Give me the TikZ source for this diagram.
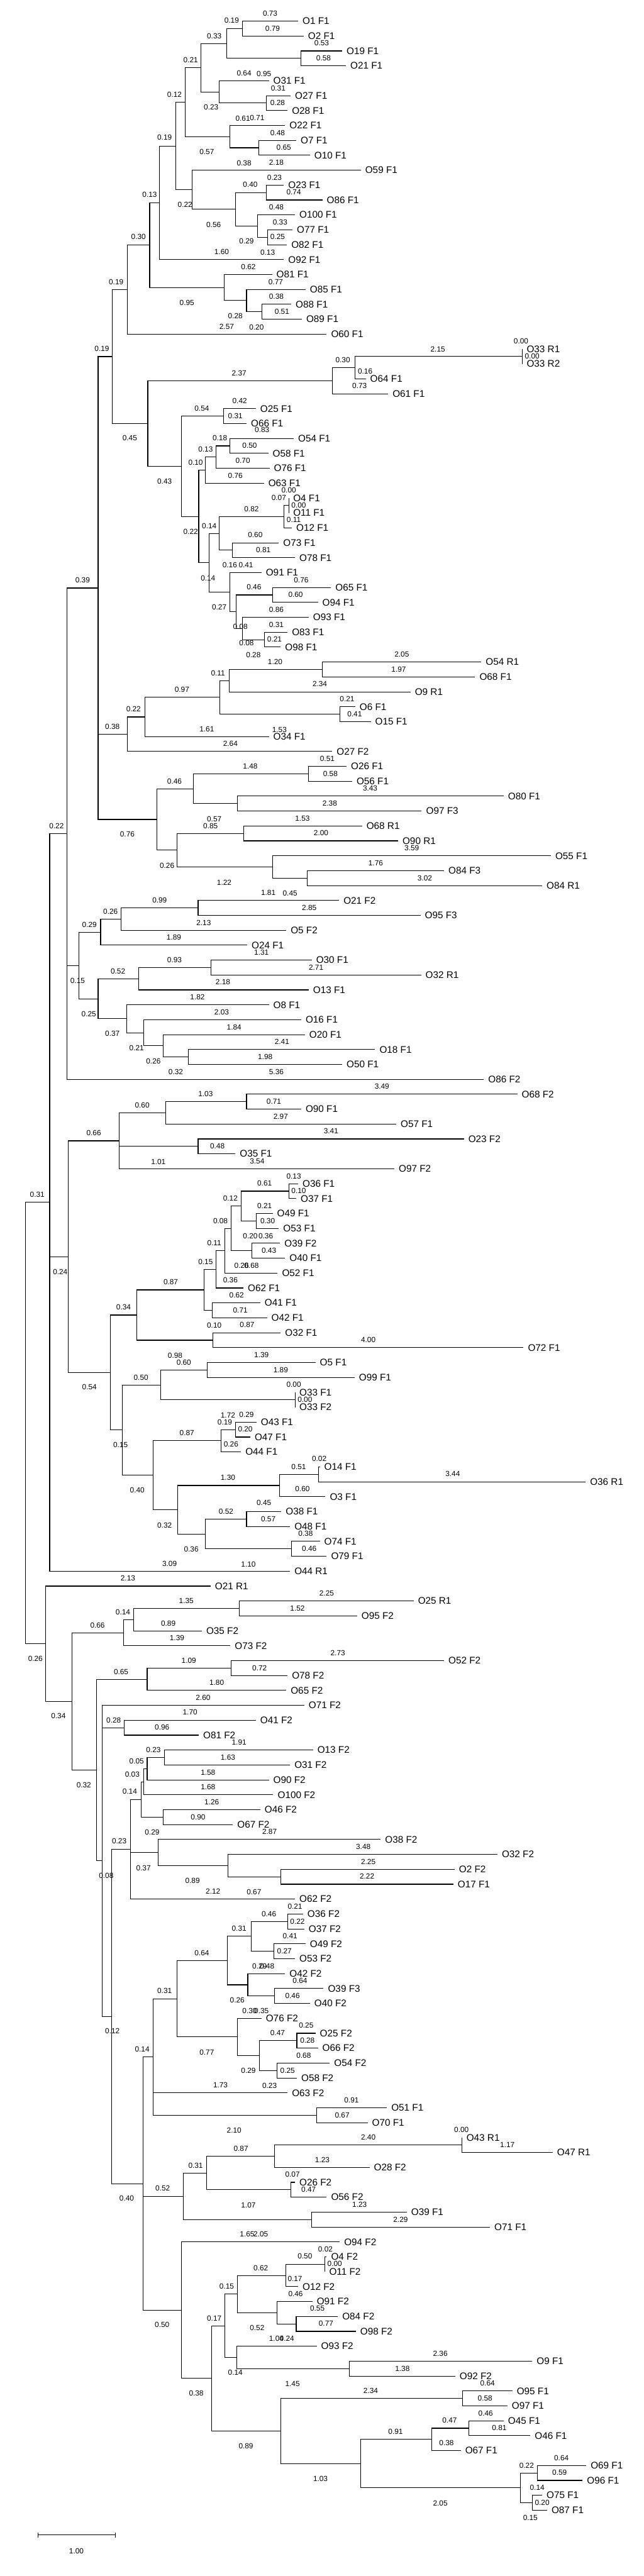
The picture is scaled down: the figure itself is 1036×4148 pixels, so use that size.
\documentclass[tikz,border=0pt]{standalone}
\usepackage{fontspec}
\setmainfont{Liberation Sans}
\newcounter{blc}
\begin{document}
\begin{tikzpicture}[x=1pt,y=-1pt,
  br/.style={line width=1.1pt},
  leaflab/.style={anchor=west,inner sep=0pt,font=\fontsize{15.5}{16}\selectfont},
  brlab/.style={inner sep=0pt,font=\fontsize{12}{13}\selectfont}]
\useasboundingbox (0,0) rectangle (1036,4148);
\newcommand\lf[4]{\coordinate (#1) at (#3,{34+24*#2}); \node[leaflab] (t#1) at ([xshift=7pt]#1) {#4};}
\newcommand\nd[3]{\coordinate (#1) at (#2,#3);}
\newcommand\ch[2]{\foreach \chld in {#2}{\draw[br] (#1) |- (\chld);}}
\newcommand\bl[3]{\stepcounter{blc}\edef\blname{b\number\value{blc}}\node[brlab] (\blname) at (#1,#2) {#3};}
% leaves
\lf{O1F1}{0}{480}{O1 F1}
\lf{O2F1}{1}{489}{O2 F1}
\lf{O19F1}{2}{551}{O19 F1}
\lf{O21F1}{3}{557}{O21 F1}
\lf{O31F1}{4}{433}{O31 F1}
\lf{O27F1}{5}{468}{O27 F1}
\lf{O28F1}{6}{463}{O28 F1}
\lf{O22F1}{7}{459}{O22 F1}
\lf{O7F1}{8}{477}{O7 F1}
\lf{O10F1}{9}{499}{O10 F1}
\lf{O59F1}{10}{581}{O59 F1}
\lf{O23F1}{11}{457}{O23 F1}
\lf{O86F1}{12}{519}{O86 F1}
\lf{O100F1}{13}{475}{O100 F1}
\lf{O77F1}{14}{471}{O77 F1}
\lf{O82F1}{15}{462}{O82 F1}
\lf{O92F1}{16}{457}{O92 F1}
\lf{O81F1}{17}{438}{O81 F1}
\lf{O85F1}{18}{492}{O85 F1}
\lf{O88F1}{19}{469}{O88 F1}
\lf{O89F1}{20}{486}{O89 F1}
\lf{O60F1}{21}{526}{O60 F1}
\lf{O33R1}{22}{841}{O33 R1}
\lf{O33R2}{23}{841}{O33 R2}
\lf{O64F1}{24}{589}{O64 F1}
\lf{O61F1}{25}{625}{O61 F1}
\lf{O25F1}{26}{412}{O25 F1}
\lf{O66F1}{27}{397}{O66 F1}
\lf{O54F1}{28}{473}{O54 F1}
\lf{O58F1}{29}{432}{O58 F1}
\lf{O76F1}{30}{434}{O76 F1}
\lf{O63F1}{31}{425}{O63 F1}
\lf{O4F1}{32}{465}{O4 F1}
\lf{O11F1}{33}{465}{O11 F1}
\lf{O12F1}{34}{470}{O12 F1}
\lf{O73F1}{35}{449}{O73 F1}
\lf{O78F1}{36}{475}{O78 F1}
\lf{O91F1}{37}{421}{O91 F1}
\lf{O65F1}{38}{533}{O65 F1}
\lf{O94F1}{39}{512}{O94 F1}
\lf{O93F1}{40}{497}{O93 F1}
\lf{O83F1}{41}{463}{O83 F1}
\lf{O98F1}{42}{452}{O98 F1}
\lf{O54R1}{43}{775}{O54 R1}
\lf{O68F1}{44}{765}{O68 F1}
\lf{O9R1}{45}{661}{O9 R1}
\lf{O6F1}{46}{572}{O6 F1}
\lf{O15F1}{47}{597}{O15 F1}
\lf{O34F1}{48}{433}{O34 F1}
\lf{O27F2}{49}{535}{O27 F2}
\lf{O26F1}{50}{558}{O26 F1}
\lf{O56F1}{51}{567}{O56 F1}
\lf{O80F1}{52}{811}{O80 F1}
\lf{O97F3}{53}{679}{O97 F3}
\lf{O68R1}{54}{583}{O68 R1}
\lf{O90R1}{55}{641}{O90 R1}
\lf{O55F1}{56}{887}{O55 F1}
\lf{O84F3}{57}{715}{O84 F3}
\lf{O84R1}{58}{873}{O84 R1}
\lf{O21F2}{59}{546}{O21 F2}
\lf{O95F3}{60}{677}{O95 F3}
\lf{O5F2}{61}{461}{O5 F2}
\lf{O24F1}{62}{398}{O24 F1}
\lf{O30F1}{63}{502}{O30 F1}
\lf{O32R1}{64}{678}{O32 R1}
\lf{O13F1}{65}{497}{O13 F1}
\lf{O8F1}{66}{433}{O8 F1}
\lf{O16F1}{67}{485}{O16 F1}
\lf{O20F1}{68}{491}{O20 F1}
\lf{O18F1}{69}{604}{O18 F1}
\lf{O50F1}{70}{551}{O50 F1}
\lf{O86F2}{71}{779}{O86 F2}
\lf{O68F2}{72}{833}{O68 F2}
\lf{O90F1}{73}{485}{O90 F1}
\lf{O57F1}{74}{638}{O57 F1}
\lf{O23F2}{75}{747}{O23 F2}
\lf{O35F1}{76}{379}{O35 F1}
\lf{O97F2}{77}{635}{O97 F2}
\lf{O36F1}{78}{480}{O36 F1}
\lf{O37F1}{79}{477}{O37 F1}
\lf{O49F1}{80}{439}{O49 F1}
\lf{O53F1}{81}{449}{O53 F1}
\lf{O39F2}{82}{451}{O39 F2}
\lf{O40F1}{83}{459}{O40 F1}
\lf{O52F1}{84}{447}{O52 F1}
\lf{O62F1}{85}{392}{O62 F1}
\lf{O41F1}{86}{419}{O41 F1}
\lf{O42F1}{87}{430}{O42 F1}
\lf{O32F1}{88}{452}{O32 F1}
\lf{O72F1}{89}{843}{O72 F1}
\lf{O5F1}{90}{508}{O5 F1}
\lf{O99F1}{91}{571}{O99 F1}
\lf{O33F1}{92}{475}{O33 F1}
\lf{O33F2}{93}{475}{O33 F2}
\lf{O43F1}{94}{413}{O43 F1}
\lf{O47F1}{95}{403}{O47 F1}
\lf{O44F1}{96}{388}{O44 F1}
\lf{O14F1}{97}{515}{O14 F1}
\lf{O36R1}{98}{943}{O36 R1}
\lf{O3F1}{99}{524}{O3 F1}
\lf{O38F1}{100}{453}{O38 F1}
\lf{O48F1}{101}{467}{O48 F1}
\lf{O74F1}{102}{515}{O74 F1}
\lf{O79F1}{103}{526}{O79 F1}
\lf{O44R1}{104}{467}{O44 R1}
\lf{O21R1}{105}{339}{O21 R1}
\lf{O25R1}{106}{666}{O25 R1}
\lf{O95F2}{107}{575}{O95 F2}
\lf{O35F2}{108}{325}{O35 F2}
\lf{O73F2}{109}{371}{O73 F2}
\lf{O52F2}{110}{715}{O52 F2}
\lf{O78F2}{111}{463}{O78 F2}
\lf{O65F2}{112}{461}{O65 F2}
\lf{O71F2}{113}{490}{O71 F2}
\lf{O41F2}{114}{412}{O41 F2}
\lf{O81F2}{115}{320}{O81 F2}
\lf{O13F2}{116}{504}{O13 F2}
\lf{O31F2}{117}{467}{O31 F2}
\lf{O90F2}{118}{433}{O90 F2}
\lf{O100F2}{119}{440}{O100 F2}
\lf{O46F2}{120}{419}{O46 F2}
\lf{O67F2}{121}{375}{O67 F2}
\lf{O38F2}{122}{613}{O38 F2}
\lf{O32F2}{123}{801}{O32 F2}
\lf{O2F2}{124}{732}{O2 F2}
\lf{O17F1}{125}{730}{O17 F1}
\lf{O62F2}{126}{475}{O62 F2}
\lf{O36F2}{127}{488}{O36 F2}
\lf{O37F2}{128}{490}{O37 F2}
\lf{O49F2}{129}{492}{O49 F2}
\lf{O53F2}{130}{475}{O53 F2}
\lf{O42F2}{131}{459}{O42 F2}
\lf{O39F3}{132}{521}{O39 F3}
\lf{O40F2}{133}{499}{O40 F2}
\lf{O76F2}{134}{421}{O76 F2}
\lf{O25F2}{135}{508}{O25 F2}
\lf{O66F2}{136}{512}{O66 F2}
\lf{O54F2}{137}{531}{O54 F2}
\lf{O58F2}{138}{478}{O58 F2}
\lf{O63F2}{139}{463}{O63 F2}
\lf{O51F1}{140}{623}{O51 F1}
\lf{O70F1}{141}{592}{O70 F1}
\lf{O43R1}{142}{744}{O43 R1}
\lf{O47R1}{143}{890}{O47 R1}
\lf{O28F2}{144}{595}{O28 F2}
\lf{O26F2}{145}{475}{O26 F2}
\lf{O56F2}{146}{526}{O56 F2}
\lf{O39F1}{147}{655}{O39 F1}
\lf{O71F1}{148}{789}{O71 F1}
\lf{O94F2}{149}{547}{O94 F2}
\lf{O4F2}{150}{526}{O4 F2}
\lf{O11F2}{151}{523}{O11 F2}
\lf{O12F2}{152}{480}{O12 F2}
\lf{O91F2}{153}{503}{O91 F2}
\lf{O84F2}{154}{544}{O84 F2}
\lf{O98F2}{155}{573}{O98 F2}
\lf{O93F2}{156}{510}{O93 F2}
\lf{O9F1}{157}{857}{O9 F1}
\lf{O92F2}{158}{733}{O92 F2}
\lf{O95F1}{159}{825}{O95 F1}
\lf{O97F1}{160}{817}{O97 F1}
\lf{O45F1}{161}{811}{O45 F1}
\lf{O46F1}{162}{854}{O46 F1}
\lf{O67F1}{163}{742}{O67 F1}
\lf{O69F1}{164}{944}{O69 F1}
\lf{O96F1}{165}{938}{O96 F1}
\lf{O75F1}{166}{873}{O75 F1}
\lf{O87F1}{167}{881}{O87 F1}
% internal nodes
\nd{nA}{390}{46}\nd{nB}{485}{94}\nd{nC}{365}{70}\nd{nD}{429}{166}\nd{nE}{353}{148}
\nd{nF}{324}{109}\nd{nG}{417}{238}\nd{nH}{370}{220}\nd{nI}{298}{164.5}\nd{nJ}{429}{310}
\nd{nK}{431}{382}\nd{nL}{415}{364}\nd{nM}{379}{337}\nd{nN}{309}{305.5}\nd{nO}{283}{235}
\nd{nP}{257}{326.5}\nd{nQ}{422}{502}\nd{nR}{397}{484}\nd{nS}{361}{463}\nd{nT}{241}{394.75}
\nd{nU}{205}{466.4}\nd{nV}{841}{574}\nd{nW}{572}{592}\nd{nX}{535}{613}\nd{nY}{360}{670}
\nd{nZ1}{370}{718}\nd{nZ2}{348}{736}\nd{nZ3}{331}{757}\nd{nZ4}{465}{814}\nd{nZ5}{457}{832}
\nd{nZ6}{374}{886}\nd{nZ7}{353}{859}\nd{nG1}{439}{958}\nd{nG2}{426}{1030}\nd{nG3}{390}{1012}
\nd{nG4}{380}{985}\nd{nG5}{370}{953.5}\nd{nZ8}{337}{906.25}\nd{nZ9}{320}{831.6}\nd{nZ10}{292}{750.8}
\nd{nZ11}{238}{681.9}\nd{nZ12}{181}{574.2}
\nd{nH1}{519}{1078}\nd{nH2}{369}{1096}\nd{nH3}{547}{1150}\nd{nH4}{354}{1123}\nd{nH5}{233}{1154.5}
\nd{nH6}{205}{1182.25}\nd{nI1}{497}{1246}\nd{nI2}{382}{1294}\nd{nI3}{311}{1270}\nd{nI4}{392}{1342}
\nd{nI5}{495}{1414}\nd{nI6}{439}{1396}\nd{nI7}{285}{1369}\nd{nI8}{253}{1319.5}\nd{nZ13}{158}{946.85}
\nd{nJ1}{319}{1462}\nd{nJ2}{195}{1480}\nd{nJ3}{162}{1501}\nd{nJ4}{340}{1558}\nd{nJ5}{223}{1576}
\nd{nJ6}{303}{1702}\nd{nJ7}{263}{1684}\nd{nJ8}{231}{1663}\nd{nJ9}{204}{1640.5}\nd{nJ10}{158}{1608.25}
\nd{nJ11}{127}{1554.6}\nd{nK1}{108}{1342.4}
\nd{nL1}{397}{1774}\nd{nL2}{267}{1792}\nd{nL3}{319}{1846}\nd{nL4}{192}{1837}
\nd{nM1}{465}{1918}\nd{nM2}{413}{1966}\nd{nM3}{388}{1942}\nd{nM4}{406}{2014}\nd{nM5}{372}{1978}
\nd{nM6}{362}{2014}\nd{nM7}{348}{2044}\nd{nM8}{342}{2110}\nd{nM9}{329}{2077}\nd{nM10}{343}{2158}
\nd{nM11}{220}{2117.5}
\nd{nN1}{334}{2206}\nd{nN2}{475}{2254}\nd{nN3}{259}{2230}\nd{nN4}{379}{2302}\nd{nN5}{356}{2320}
\nd{nN6}{513}{2374}\nd{nN7}{450}{2392}\nd{nN8}{397}{2446}\nd{nN9}{469}{2494}\nd{nN10}{331}{2470}
\nd{nN11}{286}{2431}\nd{nN12}{247}{2375.5}\nd{nN13}{197}{2302.75}\nd{nN14}{178}{2210.1}
\nd{nK2}{110}{2023.6}\nd{nK3}{80}{1936.2}
\nd{nP1}{385}{2590}\nd{nP2}{215}{2608}\nd{nP3}{199}{2629}\nd{nP4}{372}{2686}\nd{nP5}{237}{2704}
\nd{nP6}{200}{2782}
\nd{nQ1}{265}{2830}\nd{nQ2}{237}{2848}\nd{nQ3}{231}{2869}\nd{nQ4}{263}{2926}\nd{nQ5}{227}{2897.5}
\nd{nQ6}{452}{3022}\nd{nQ7}{367}{3004}\nd{nQ8}{255}{2983}\nd{nQ9}{210}{2977.75}
\nd{nR1}{463}{3094}\nd{nR2}{441}{3142}\nd{nR3}{405}{3118}\nd{nR4}{442}{3214}\nd{nR5}{399}{3196}
\nd{nR6}{366}{3157}\nd{nR7}{478}{3286}\nd{nR8}{446}{3334}\nd{nR9}{418}{3310}\nd{nR10}{382}{3280}
\nd{nR11}{285}{3218.5}\nd{nR12}{510}{3406}\nd{nR13}{247}{3312.25}
\nd{nS1}{744}{3454}\nd{nS2}{442}{3472}\nd{nS3}{468}{3526}\nd{nS4}{333}{3499}\nd{nS5}{502}{3574}
\nd{nS6}{295}{3536.5}
\nd{nT1}{523}{3646}\nd{nT2}{460}{3664}\nd{nT3}{477}{3742}\nd{nT4}{446}{3724}\nd{nT5}{382}{3694}
\nd{nT6}{563}{3814}\nd{nT7}{381}{3796}\nd{nT8}{362}{3745}
\nd{nU1}{745}{3862}\nd{nU2}{755}{3910}\nd{nU3}{695}{3928}\nd{nU4}{865}{3982}\nd{nU5}{857}{4030}
\nd{nU6}{838}{4006}\nd{nU7}{581}{3967}\nd{nU8}{452}{3914.5}\nd{nU9}{341}{3829.75}
\nd{nV1}{292}{3719.9}\nd{nV2}{230}{3516.1}\nd{nV3}{180}{3246.9}\nd{nV4}{165}{2996.45}
\nd{nV5}{155}{2850.2}\nd{nV6}{116}{2739.6}\nd{nV7}{73}{2646.8}
\nd{root}{41}{2291.5}
% connectors
\ch{nA}{O1F1,O2F1}\ch{nB}{O19F1,O21F1}\ch{nC}{nA,nB}\ch{nD}{O27F1,O28F1}\ch{nE}{O31F1,nD}
\ch{nF}{nC,nE}\ch{nG}{O7F1,O10F1}\ch{nH}{O22F1,nG}\ch{nI}{nF,nH}\ch{nJ}{O23F1,O86F1}
\ch{nK}{O77F1,O82F1}\ch{nL}{O100F1,nK}\ch{nM}{nJ,nL}\ch{nN}{O59F1,nM}\ch{nO}{nI,nN}
\ch{nP}{nO,O92F1}\ch{nQ}{O88F1,O89F1}\ch{nR}{O85F1,nQ}\ch{nS}{O81F1,nR}\ch{nT}{nP,nS}
\ch{nU}{nT,O60F1}\ch{nV}{O33R1,O33R2}\ch{nW}{nV,O64F1}\ch{nX}{nW,O61F1}\ch{nY}{O25F1,O66F1}
\ch{nZ1}{O54F1,O58F1}\ch{nZ2}{nZ1,O76F1}\ch{nZ3}{nZ2,O63F1}\ch{nZ4}{O4F1,O11F1}\ch{nZ5}{nZ4,O12F1}
\ch{nZ6}{O73F1,O78F1}\ch{nZ7}{nZ5,nZ6}\ch{nG1}{O65F1,O94F1}\ch{nG2}{O83F1,O98F1}\ch{nG3}{O93F1,nG2}
\ch{nG4}{nG1,nG3}\ch{nG5}{O91F1,nG4}\ch{nZ8}{nZ7,nG5}\ch{nZ9}{nZ3,nZ8}\ch{nZ10}{nY,nZ9}
\ch{nZ11}{nX,nZ10}\ch{nZ12}{nU,nZ11}
\ch{nH1}{O54R1,O68F1}\ch{nH2}{nH1,O9R1}\ch{nH3}{O6F1,O15F1}\ch{nH4}{nH2,nH3}\ch{nH5}{nH4,O34F1}
\ch{nH6}{nH5,O27F2}\ch{nI1}{O26F1,O56F1}\ch{nI2}{O80F1,O97F3}\ch{nI3}{nI1,nI2}\ch{nI4}{O68R1,O90R1}
\ch{nI5}{O84F3,O84R1}\ch{nI6}{O55F1,nI5}\ch{nI7}{nI4,nI6}\ch{nI8}{nI3,nI7}\ch{nZ13}{nZ12,nH6,nI8}
\ch{nJ1}{O21F2,O95F3}\ch{nJ2}{nJ1,O5F2}\ch{nJ3}{nJ2,O24F1}\ch{nJ4}{O30F1,O32R1}\ch{nJ5}{nJ4,O13F1}
\ch{nJ6}{O18F1,O50F1}\ch{nJ7}{O20F1,nJ6}\ch{nJ8}{O16F1,nJ7}\ch{nJ9}{O8F1,nJ8}\ch{nJ10}{nJ5,nJ9}
\ch{nJ11}{nJ3,nJ10}\ch{nK1}{nZ13,nJ11,O86F2}
\ch{nL1}{O68F2,O90F1}\ch{nL2}{nL1,O57F1}\ch{nL3}{O23F2,O35F1}\ch{nL4}{nL2,nL3,O97F2}
\ch{nM1}{O36F1,O37F1}\ch{nM2}{O49F1,O53F1}\ch{nM3}{nM1,nM2}\ch{nM4}{O39F2,O40F1}\ch{nM5}{nM3,nM4}
\ch{nM6}{nM5,O52F1}\ch{nM7}{nM6,O62F1}\ch{nM8}{O41F1,O42F1}\ch{nM9}{nM7,nM8}\ch{nM10}{O32F1,O72F1}
\ch{nM11}{nM9,nM10}
\ch{nN1}{O5F1,O99F1}\ch{nN2}{O33F1,O33F2}\ch{nN3}{nN1,nN2}\ch{nN4}{O43F1,O47F1}\ch{nN5}{nN4,O44F1}
\ch{nN6}{O14F1,O36R1}\ch{nN7}{nN6,O3F1}\ch{nN8}{O38F1,O48F1}\ch{nN9}{O74F1,O79F1}\ch{nN10}{nN8,nN9}
\ch{nN11}{nN7,nN10}\ch{nN12}{nN5,nN11}\ch{nN13}{nN3,nN12}\ch{nN14}{nM11,nN13}
\ch{nK2}{nL4,nN14}\ch{nK3}{nK1,nK2,O44R1}
\ch{nP1}{O25R1,O95F2}\ch{nP2}{nP1,O35F2}\ch{nP3}{nP2,O73F2}\ch{nP4}{O52F2,O78F2}\ch{nP5}{nP4,O65F2}
\ch{nP6}{O41F2,O81F2}
\ch{nQ1}{O13F2,O31F2}\ch{nQ2}{nQ1,O90F2}\ch{nQ3}{nQ2,O100F2}\ch{nQ4}{O46F2,O67F2}\ch{nQ5}{nQ3,nQ4}
\ch{nQ6}{O2F2,O17F1}\ch{nQ7}{O32F2,nQ6}\ch{nQ8}{O38F2,nQ7}\ch{nQ9}{nQ5,nQ8,O62F2}
\ch{nR1}{O36F2,O37F2}\ch{nR2}{O49F2,O53F2}\ch{nR3}{nR1,nR2}\ch{nR4}{O39F3,O40F2}\ch{nR5}{O42F2,nR4}
\ch{nR6}{nR3,nR5}\ch{nR7}{O25F2,O66F2}\ch{nR8}{O54F2,O58F2}\ch{nR9}{nR7,nR8}\ch{nR10}{O76F2,nR9}
\ch{nR11}{nR6,nR10}\ch{nR12}{O51F1,O70F1}\ch{nR13}{nR11,O63F2,nR12}
\ch{nS1}{O43R1,O47R1}\ch{nS2}{nS1,O28F2}\ch{nS3}{O26F2,O56F2}\ch{nS4}{nS2,nS3}\ch{nS5}{O39F1,O71F1}
\ch{nS6}{nS4,nS5}
\ch{nT1}{O4F2,O11F2}\ch{nT2}{nT1,O12F2}\ch{nT3}{O84F2,O98F2}\ch{nT4}{O91F2,nT3}\ch{nT5}{nT2,nT4}
\ch{nT6}{O9F1,O92F2}\ch{nT7}{O93F2,nT6}\ch{nT8}{nT5,nT7}
\ch{nU1}{O95F1,O97F1}\ch{nU2}{O45F1,O46F1}\ch{nU3}{nU2,O67F1}\ch{nU4}{O69F1,O96F1}\ch{nU5}{O75F1,O87F1}
\ch{nU6}{nU4,nU5}\ch{nU7}{nU3,nU6}\ch{nU8}{nU1,nU7}\ch{nU9}{nT8,nU8}
\ch{nV1}{O94F2,nU9}\ch{nV2}{nR13,nS6,nV1}\ch{nV3}{nQ9,nV2}\ch{nV4}{O71F2,nP6,nV3}
\ch{nV5}{nP5,nV4}\ch{nV6}{nP3,nV5}\ch{nV7}{O21R1,nV6}
\ch{root}{nK3,nV7}
% branch labels
\bl{435}{21.7}{0.73}\bl{373}{33.3}{0.19}\bl{439}{45.7}{0.79}\bl{345}{57.7}{0.33}\bl{518}{69.7}{0.53}
\bl{521}{93.7}{0.58}\bl{307}{97}{0.21}\bl{393}{117.7}{0.64}\bl{425}{118.7}{0.95}\bl{448}{141.7}{0.31}
\bl{281}{152}{0.12}\bl{447}{165.7}{0.28}\bl{340}{172.7}{0.23}\bl{391}{190.7}{0.61}\bl{414}{190}{0.71}
\bl{447}{213.7}{0.48}\bl{265}{221.7}{0.19}\bl{457}{237.7}{0.65}\bl{333}{244.7}{0.57}\bl{393}{263}{0.38}
\bl{445}{261.7}{2.18}\bl{442}{285.7}{0.23}\bl{403}{297.3}{0.40}\bl{241}{313.7}{0.13}\bl{473}{309.7}{0.74}
\bl{298}{329.7}{0.22}\bl{445}{333.3}{0.48}
\bl{344}{361.7}{0.56}\bl{451}{357.7}{0.33}\bl{223}{381.7}{0.30}\bl{397}{388.3}{0.29}\bl{447}{381.7}{0.25}
\bl{357}{405.7}{1.60}\bl{431}{406.3}{0.13}\bl{400}{429.7}{0.62}\bl{187}{453.7}{0.19}\bl{444}{453.7}{0.77}
\bl{445}{477.7}{0.38}\bl{301}{488}{0.95}\bl{454}{501.7}{0.51}\bl{379}{508.7}{0.28}\bl{365}{526}{2.57}
\bl{413}{526.7}{0.20}\bl{164}{561}{0.19}\bl{839}{549.3}{0.00}\bl{705}{562}{2.15}\bl{857}{573.7}{0.00}
\bl{552}{579.7}{0.30}\bl{385}{600.7}{2.37}\bl{588}{597.7}{0.16}\bl{579}{621.7}{0.73}\bl{386}{645.7}{0.42}
\bl{325}{657.7}{0.54}\bl{379}{669.7}{0.31}\bl{422}{691.7}{0.83}
\bl{209}{705.7}{0.45}\bl{354}{705.7}{0.18}\bl{402}{717.7}{0.50}\bl{331}{723.7}{0.13}\bl{391}{741.7}{0.70}
\bl{315}{744.3}{0.10}\bl{379}{765.7}{0.76}\bl{265}{774.7}{0.43}\bl{465}{789.7}{0.00}\bl{449}{801.3}{0.07}
\bl{481}{813.7}{0.00}\bl{405}{819.7}{0.82}\bl{473}{837.3}{0.11}\bl{337}{846.7}{0.14}\bl{307}{855.7}{0.22}
\bl{411}{861.7}{0.60}\bl{424}{885.7}{0.81}\bl{370}{910.3}{0.16}\bl{396}{909.7}{0.41}\bl{335}{930.7}{0.14}
\bl{485}{933.7}{0.76}\bl{133}{933.7}{0.39}\bl{409}{945.7}{0.46}\bl{476}{957.3}{0.60}\bl{353}{977.3}{0.27}
\bl{445}{981.7}{0.86}\bl{387}{1009.3}{0.08}\bl{445}{1005.7}{0.31}\bl{442}{1029.7}{0.21}\bl{397}{1035.7}{0.08}
\bl{408}{1054.7}{0.28}\bl{647}{1053.7}{2.05}\bl{443}{1065.7}{1.20}\bl{642}{1077.7}{1.97}\bl{351}{1083.7}{0.11}
\bl{515}{1101.7}{2.34}\bl{293}{1110.7}{0.97}\bl{559}{1125.7}{0.21}\bl{215}{1141.7}{0.22}\bl{571}{1149.7}{0.41}
\bl{181}{1169.7}{0.38}\bl{333}{1173.7}{1.61}\bl{450}{1174.7}{1.53}\bl{371}{1197.7}{2.64}\bl{527}{1221.7}{0.51}
\bl{403}{1233.7}{1.48}\bl{532}{1245.7}{0.58}\bl{281}{1257.7}{0.46}\bl{596}{1269.7}{3.43}\bl{531}{1293.7}{2.38}
\bl{345}{1318.7}{0.57}\bl{487}{1317.7}{1.53}\bl{339}{1329.7}{0.85}\bl{91}{1329.7}{0.22}\bl{205}{1343.7}{0.76}
\bl{517}{1341.7}{2.00}\bl{663}{1365.7}{3.59}
\bl{269}{1393.7}{0.26}\bl{605}{1389.7}{1.76}\bl{684}{1413.7}{3.02}\bl{361}{1420.7}{1.22}\bl{432}{1437.7}{1.81}
\bl{467}{1438.7}{0.45}\bl{257}{1449.7}{0.99}\bl{498}{1461.7}{2.85}\bl{178}{1468}{0.26}\bl{328}{1485.7}{2.13}
\bl{144}{1488.7}{0.29}\bl{280}{1509.7}{1.89}\bl{421}{1533.7}{1.31}\bl{281}{1545.7}{0.93}\bl{509}{1557.7}{2.71}
\bl{190}{1563.7}{0.52}\bl{125}{1578.7}{0.15}\bl{359}{1581.7}{2.18}\bl{318}{1605.7}{1.82}\bl{357}{1629.7}{2.03}
\bl{143}{1632.7}{0.25}\bl{377}{1653.7}{1.84}\bl{181}{1664.7}{0.37}\bl{454}{1677.7}{2.41}\bl{220}{1687.3}{0.21}
\bl{427}{1701.7}{1.98}\bl{247}{1708.7}{0.26}\bl{283}{1725.7}{0.32}\bl{445}{1725.7}{5.36}
\bl{615}{1749.3}{3.49}\bl{331}{1761.7}{1.03}\bl{441}{1773.7}{0.71}\bl{229}{1779.7}{0.60}\bl{452}{1797.7}{2.97}
\bl{533}{1821.7}{3.41}\bl{151}{1824.7}{0.66}\bl{350}{1845.7}{0.48}\bl{255}{1870.7}{1.01}\bl{414}{1869.7}{3.54}
\bl{473}{1893.7}{0.13}\bl{426}{1905.7}{0.61}\bl{481}{1917.7}{0.10}\bl{60}{1924}{0.31}\bl{371}{1929.7}{0.12}
\bl{426}{1941.7}{0.21}\bl{431}{1965.7}{0.30}\bl{355}{1965.7}{0.08}\bl{403}{1990.7}{0.20}\bl{428}{1990}{0.36}
\bl{345}{2001.7}{0.11}\bl{433}{2013.7}{0.43}\bl{331}{2031.7}{0.15}\bl{389}{2038.3}{0.26}\bl{405}{2037.7}{0.68}
\bl{97}{2047.7}{0.24}\bl{275}{2064.7}{0.87}\bl{371}{2061.7}{0.36}
\bl{381}{2085.7}{0.62}\bl{199}{2104.3}{0.34}\bl{387}{2109.7}{0.71}\bl{345}{2134.3}{0.10}\bl{398}{2133.3}{0.87}
\bl{593}{2157.7}{4.00}\bl{282}{2182.7}{0.98}\bl{421}{2181.7}{1.39}\bl{296}{2193.7}{0.60}\bl{227}{2217.7}{0.50}
\bl{452}{2205.7}{1.89}\bl{473}{2229.7}{0.00}\bl{144}{2233.7}{0.54}\bl{491}{2253.7}{0.00}\bl{367}{2278.7}{1.72}
\bl{397}{2277.7}{0.29}\bl{362}{2289.7}{0.19}\bl{395}{2301.7}{0.20}\bl{301}{2307.7}{0.87}\bl{372}{2325.7}{0.26}
\bl{194}{2326.7}{0.15}\bl{514}{2349.3}{0.02}\bl{481}{2361.7}{0.51}\bl{729}{2373.3}{3.44}\bl{367}{2379.7}{1.30}
\bl{487}{2397.7}{0.60}\bl{221}{2399.7}{0.40}\bl{425}{2420}{0.45}
\bl{364}{2433.7}{0.52}\bl{432}{2445.7}{0.57}\bl{265}{2455.7}{0.32}\bl{492}{2469.7}{0.38}\bl{498}{2493.7}{0.46}
\bl{308}{2494.7}{0.36}\bl{273}{2517.7}{3.09}\bl{400}{2518.7}{1.10}\bl{206}{2541.7}{2.13}\bl{526}{2565.7}{2.25}
\bl{300}{2577.7}{1.35}\bl{479}{2589.7}{1.52}\bl{198}{2595.7}{0.14}\bl{271}{2613.7}{0.89}\bl{157}{2616.7}{0.66}
\bl{285}{2637.7}{1.39}\bl{544}{2661.7}{2.73}\bl{57}{2671}{0.26}\bl{304}{2673.7}{1.09}\bl{418}{2685.7}{0.72}
\bl{195}{2691.7}{0.65}\bl{349}{2709.7}{1.80}\bl{327}{2733.7}{2.60}\bl{306}{2757}{1.70}\bl{94}{2763.5}{0.34}
\bl{183}{2769.7}{0.28}\bl{261}{2781.7}{0.96}\bl{385}{2805.7}{1.91}\bl{247}{2817.7}{0.23}\bl{367}{2829.7}{1.63}
\bl{220}{2835.7}{0.05}\bl{335}{2853.7}{1.58}\bl{213}{2856.7}{0.03}\bl{135}{2874.7}{0.32}\bl{335}{2877.7}{1.68}
\bl{209}{2884.3}{0.14}\bl{341}{2901.7}{1.26}\bl{319}{2925.7}{0.90}\bl{245}{2950.7}{0.29}\bl{434}{2949.7}{2.87}
\bl{192}{2964.7}{0.23}\bl{585}{2973.7}{3.48}\bl{593}{2997.7}{2.25}\bl{231}{3007.7}{0.37}\bl{171}{3020.3}{0.08}
\bl{591}{3021.7}{2.22}\bl{310}{3028.3}{0.89}\bl{343}{3045.7}{2.12}\bl{409}{3046.3}{0.67}\bl{475}{3070}{0.21}
\bl{433}{3081.7}{0.46}\bl{479}{3093.7}{0.22}\bl{385}{3105.7}{0.31}
\bl{467}{3117.7}{0.41}\bl{458}{3141.7}{0.27}\bl{325}{3144.7}{0.64}\bl{418}{3166.3}{0.29}\bl{430}{3166}{0.48}
\bl{483}{3189.7}{0.64}\bl{265}{3205.7}{0.31}\bl{471}{3213.7}{0.46}\bl{382}{3220.7}{0.26}\bl{402}{3237.7}{0.30}
\bl{421}{3238.3}{0.35}\bl{493}{3261.7}{0.25}\bl{181}{3270.7}{0.12}\bl{447}{3273.7}{0.47}\bl{495}{3285.7}{0.28}
\bl{229}{3299.7}{0.14}\bl{333}{3304.7}{0.77}\bl{489}{3309.7}{0.68}\bl{400}{3334.3}{0.29}\bl{463}{3333.7}{0.25}
\bl{355}{3357.7}{1.73}\bl{434}{3358.7}{0.23}\bl{566}{3381.7}{0.91}\bl{551}{3405.7}{0.67}\bl{377}{3430.7}{2.10}
\bl{743}{3429.3}{0.00}\bl{593}{3441.7}{2.40}\bl{817}{3453.5}{1.17}
\bl{388}{3459.7}{0.87}\bl{519}{3477.7}{1.23}\bl{315}{3486.7}{0.31}\bl{471}{3501.7}{0.07}\bl{262}{3524}{0.52}
\bl{497}{3525.7}{0.47}\bl{204}{3539.3}{0.40}\bl{579}{3549.7}{1.23}\bl{400}{3550.7}{1.07}\bl{645}{3573.7}{2.29}
\bl{398}{3597.7}{1.65}\bl{420}{3597.7}{2.05}\bl{524}{3621.7}{0.02}\bl{491}{3633.3}{0.50}\bl{539}{3645.3}{0.00}
\bl{420}{3651.7}{0.62}\bl{475}{3669.7}{0.17}\bl{365}{3681.7}{0.15}\bl{476}{3693.7}{0.46}\bl{511}{3717.3}{0.55}
\bl{345}{3732.7}{0.17}\bl{525}{3741.7}{0.77}\bl{261}{3743.3}{0.50}\bl{414}{3748.3}{0.52}\bl{445}{3765.3}{1.04}
\bl{462}{3766}{0.24}\bl{709}{3789.7}{2.36}
\bl{379}{3820.3}{0.14}\bl{648}{3813.7}{1.38}\bl{471}{3838.7}{1.45}\bl{785}{3837.3}{0.64}\bl{597}{3849.7}{2.34}
\bl{316}{3853.7}{0.38}\bl{781}{3861.7}{0.58}\bl{782}{3885.7}{0.46}\bl{724}{3897.7}{0.47}\bl{804}{3909.7}{0.81}
\bl{637}{3915.7}{0.91}\bl{719}{3933.7}{0.38}\bl{396}{3938.7}{0.89}\bl{904}{3957.7}{0.64}\bl{848}{3969.7}{0.22}
\bl{901}{3981.7}{0.59}\bl{516}{3991.7}{1.03}\bl{865}{4005.7}{0.14}\bl{873}{4029.7}{0.20}\bl{709}{4030.7}{2.05}
\bl{854}{4054.3}{0.15}
% scale bar
\coordinate (sbA) at (61,4082);
\coordinate (sbB) at (186,4082);
\draw[br] (sbA) -- (sbB);
\draw[br] ([yshift=4pt]sbA) -- ([yshift=-4pt]sbA);
\draw[br] ([yshift=4pt]sbB) -- ([yshift=-4pt]sbB);
\node[brlab] (sbL) at (123,4107.7) {1.00};
\end{tikzpicture}
\end{document}
